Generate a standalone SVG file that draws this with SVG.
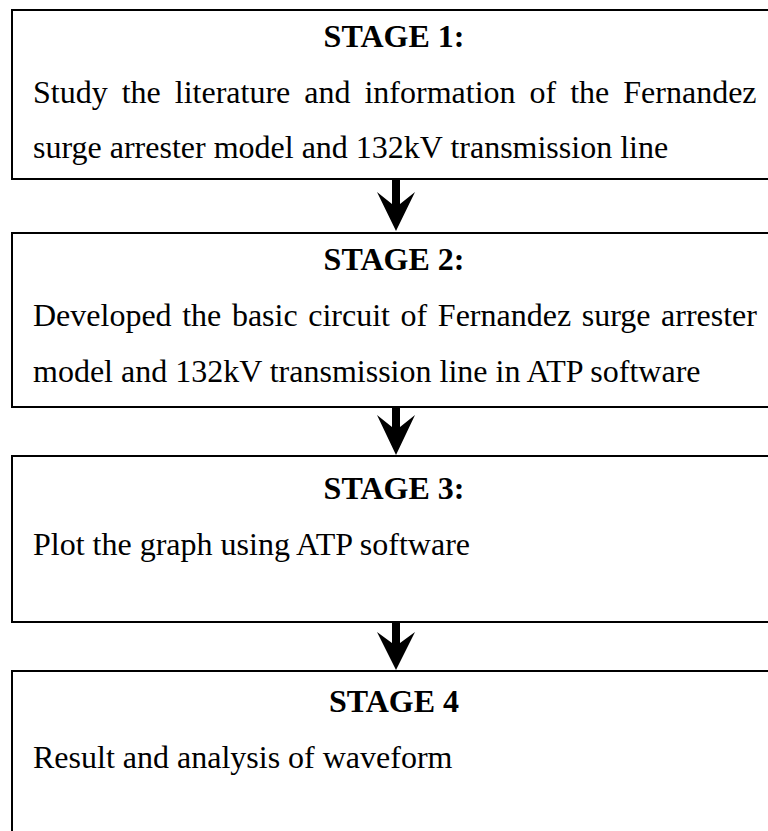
<svg xmlns="http://www.w3.org/2000/svg" width="768" height="831" viewBox="0 0 768 831">
<style>
.box{fill:#fff;stroke:#000;stroke-width:2}
.t{font-family:"Liberation Serif","Times New Roman",serif;font-size:32px;fill:#000}
.h{font-family:"Liberation Serif","Times New Roman",serif;font-size:32px;font-weight:bold;fill:#000;text-anchor:middle}
.arr{fill:#000}
</style>
<rect width="768" height="831" fill="#fff"/>
<g id="stage1">
<rect class="box" x="12" y="10" width="800" height="169"/>
<text class="h" x="394" y="47">STAGE 1:</text>
<text class="t" x="33" y="103" word-spacing="6">Study the literature and information of the Fernandez</text>
<text class="t" x="33" y="158">surge arrester model and 132kV transmission line</text>
</g>
<g id="stage2">
<rect class="box" x="12" y="233" width="800" height="174"/>
<text class="h" x="394" y="270">STAGE 2:</text>
<text class="t" x="33" y="326" word-spacing="2.6">Developed the basic circuit of Fernandez surge arrester</text>
<text class="t" x="33" y="382">model and 132kV transmission line in ATP software</text>
</g>
<g id="stage3">
<rect class="box" x="12" y="456" width="800" height="166"/>
<text class="h" x="394" y="499">STAGE 3:</text>
<text class="t" x="33" y="555">Plot the graph using ATP software</text>
</g>
<g id="stage4">
<rect class="box" x="12" y="671" width="800" height="200"/>
<text class="h" x="394" y="712">STAGE 4</text>
<text class="t" x="33" y="768">Result and analysis of waveform</text>
</g>
<g id="connectors">
<path class="arr" d="M392,180 L400,180 L400,204 L415,192 L396,231 L377,192 L392,204 Z"/>
<path class="arr" d="M392,408 L400,408 L400,427 L415,415 L396,455 L377,415 L392,427 Z"/>
<path class="arr" d="M392,623 L400,623 L400,643 L415,632 L396,670 L377,632 L392,643 Z"/>
</g>
</svg>
